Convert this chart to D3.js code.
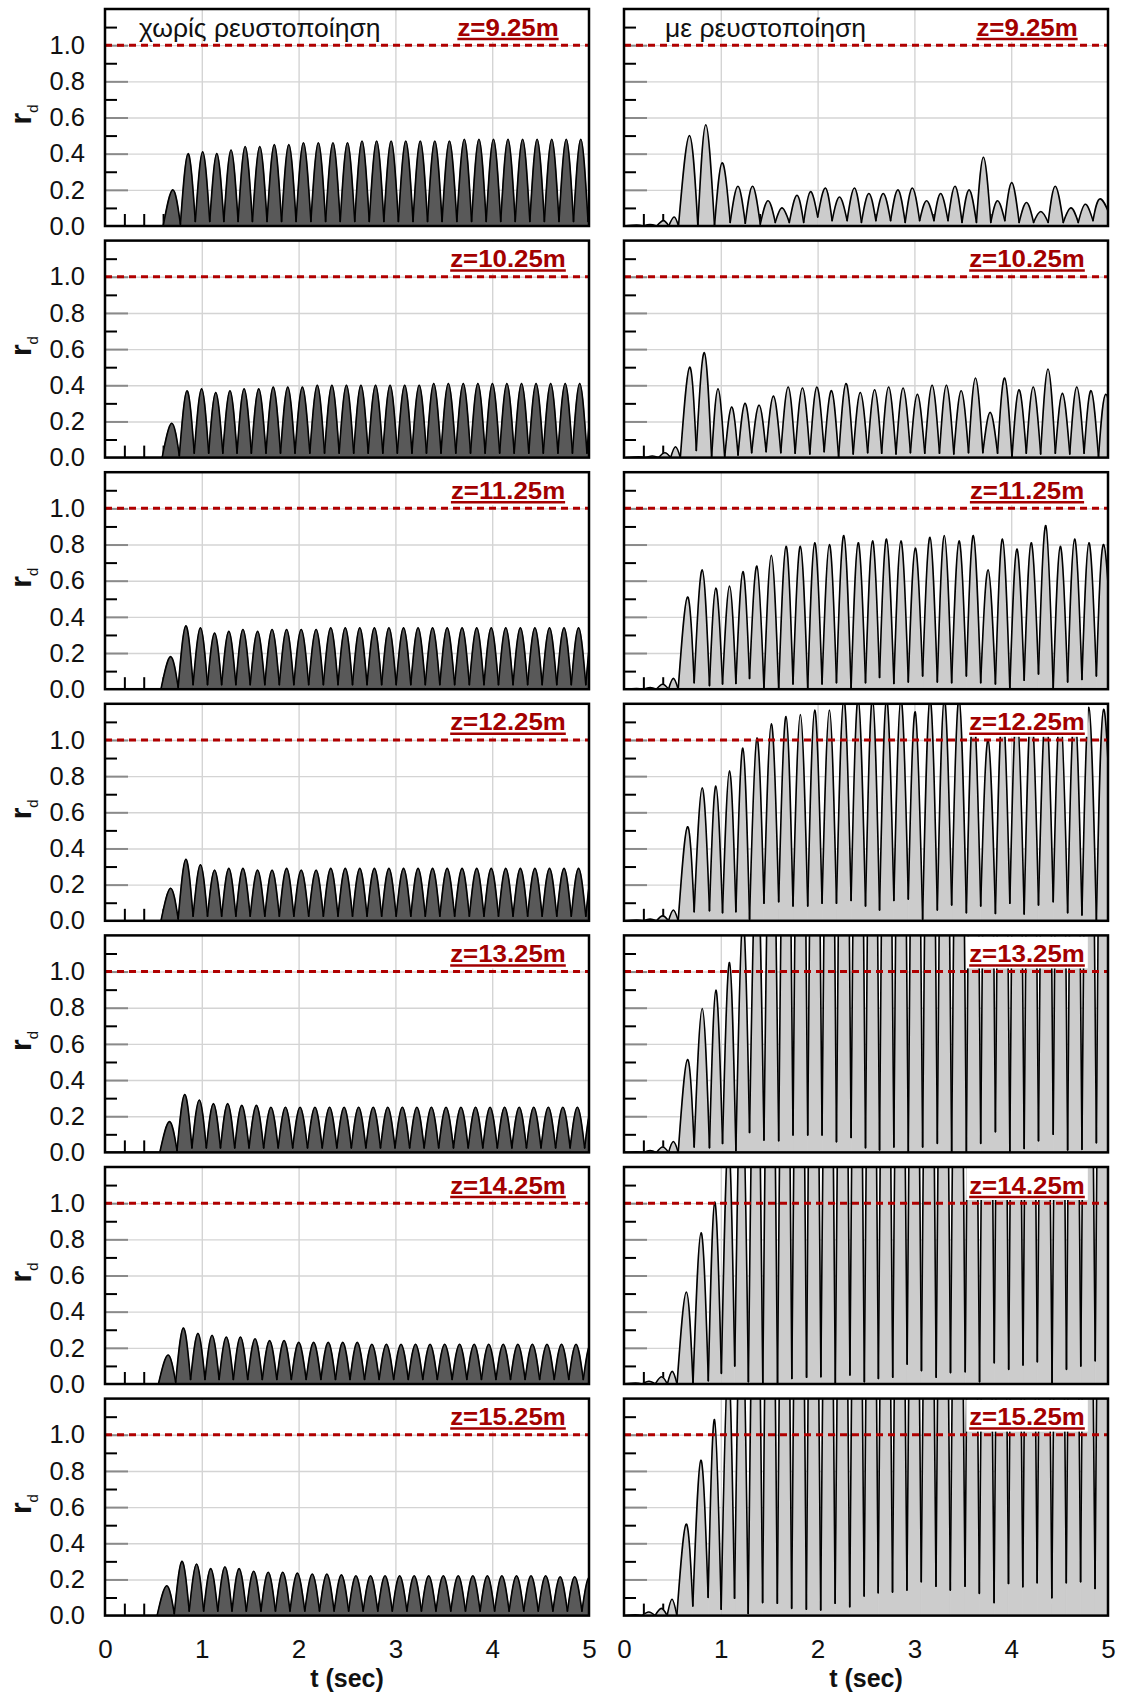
<!DOCTYPE html>
<html>
<head>
<meta charset="utf-8">
<script src="https://cdn.jsdelivr.net/npm/d3@7"></script>
<style>
  body { margin: 0; background: #fff; }
  svg { display: block; font-family: "Liberation Sans", Arial, sans-serif; }
</style>
</head>
<body>
<div id="chart"></div>
<script>
"use strict";

// ---- data ----
const depths = ["z=9.25m", "z=10.25m", "z=11.25m", "z=12.25m", "z=13.25m", "z=14.25m", "z=15.25m"];
const titles = ["χωρίς ρευστοποίηση", "με ρευστοποίηση"];
const yTickLabels = [0, 0.2, 0.4, 0.6, 0.8, 1.0];
const xTickLabels = [0, 1, 2, 3, 4, 5];

// left column (no liquefaction): turning point times of deepest row, shift per row
const peakTL = [0.637, 0.795, 0.946, 1.092, 1.239, 1.385, 1.536, 1.686, 1.836, 1.987, 2.141, 2.292, 2.442, 2.592, 2.743,
  2.893, 3.044, 3.194, 3.344, 3.495, 3.649, 3.800, 3.950, 4.100, 4.251, 4.401, 4.552, 4.702, 4.852, 5.002];
const troughTL = [0.538, 0.716, 0.870, 1.019, 1.165, 1.312, 1.460, 1.611, 1.761, 1.911, 2.064, 2.216, 2.367, 2.517, 2.667,
  2.818, 2.968, 3.119, 3.269, 3.419, 3.572, 3.724, 3.875, 4.025, 4.175, 4.326, 4.476, 4.627, 4.777, 4.927, 5.077];
const troughL = [0, 0.01, 0.025, 0.025, 0.025, 0.025, 0.025, 0.025, 0.025, 0.025, 0.025, 0.025, 0.025, 0.025, 0.025, 0.025,
  0.025, 0.025, 0.025, 0.025, 0.025, 0.025, 0.025, 0.025, 0.025, 0.025, 0.025, 0.025, 0.025, 0.025, 0.025];
const shiftL = [0.063, 0.052, 0.04, 0.04, 0.028, 0.014, 0];

const pkL1 = [0.20, 0.40, 0.41, 0.40, 0.42, 0.44, 0.44, 0.45, 0.45, 0.46, 0.46, 0.46, 0.46, 0.47, 0.47,
  0.47, 0.47, 0.47, 0.47, 0.47, 0.48, 0.48, 0.48, 0.48, 0.48, 0.48, 0.48, 0.48, 0.48, 0.48];
const pkL2 = [0.19, 0.37, 0.38, 0.36, 0.37, 0.38, 0.38, 0.39, 0.39, 0.39, 0.40, 0.40, 0.40, 0.40, 0.40,
  0.40, 0.40, 0.40, 0.41, 0.41, 0.41, 0.41, 0.41, 0.41, 0.41, 0.41, 0.41, 0.41, 0.41, 0.41];
const pkL3 = [0.18, 0.35, 0.34, 0.31, 0.32, 0.33, 0.32, 0.33, 0.33, 0.33, 0.33, 0.34, 0.34, 0.34, 0.34,
  0.34, 0.34, 0.34, 0.34, 0.34, 0.34, 0.34, 0.34, 0.34, 0.34, 0.34, 0.34, 0.34, 0.34, 0.34];
const pkL4 = [0.18, 0.34, 0.31, 0.28, 0.29, 0.29, 0.28, 0.28, 0.29, 0.28, 0.28, 0.29, 0.29, 0.29, 0.29,
  0.29, 0.29, 0.29, 0.29, 0.29, 0.29, 0.29, 0.29, 0.29, 0.29, 0.29, 0.29, 0.29, 0.29, 0.29];
const pkL5 = [0.17, 0.32, 0.29, 0.27, 0.27, 0.26, 0.26, 0.25, 0.25, 0.25, 0.25, 0.25, 0.25, 0.25, 0.25,
  0.25, 0.25, 0.25, 0.25, 0.25, 0.25, 0.25, 0.25, 0.25, 0.25, 0.25, 0.25, 0.25, 0.25, 0.25];
const pkL6 = [0.16, 0.31, 0.28, 0.27, 0.26, 0.26, 0.25, 0.24, 0.24, 0.23, 0.23, 0.23, 0.23, 0.23, 0.22,
  0.22, 0.22, 0.22, 0.22, 0.22, 0.22, 0.22, 0.22, 0.22, 0.22, 0.22, 0.22, 0.22, 0.22, 0.22];
const pkL7 = [0.165, 0.30, 0.285, 0.26, 0.27, 0.26, 0.245, 0.24, 0.24, 0.235, 0.23, 0.23, 0.225, 0.22, 0.22,
  0.22, 0.22, 0.22, 0.22, 0.22, 0.22, 0.22, 0.22, 0.22, 0.22, 0.22, 0.22, 0.215, 0.215, 0.21];

// right column (with liquefaction): top row has its own timing
const peakTR1 = [0.13, 0.269, 0.407, 0.518, 0.676, 0.845, 1.014, 1.177, 1.328, 1.487, 1.632, 1.787, 1.925, 2.081, 2.226,
  2.381, 2.529, 2.678, 2.830, 2.978, 3.126, 3.271, 3.420, 3.565, 3.713, 3.858, 4.006, 4.158, 4.306, 4.455, 4.617, 4.765, 4.921];
const troughTR1 = [0, 0.2, 0.338, 0.462, 0.563, 0.763, 0.935, 1.097, 1.253, 1.408, 1.563, 1.708, 1.856, 2.001, 2.150,
  2.305, 2.453, 2.602, 2.754, 2.905, 3.054, 3.202, 3.347, 3.492, 3.641, 3.789, 3.934, 4.082, 4.231, 4.382, 4.538, 4.693, 4.845, 5.05];
const peakTR = [0.13, 0.27, 0.40, 0.51, 0.656, 0.808, 0.949, 1.090, 1.228, 1.373, 1.522, 1.674, 1.822, 1.970, 2.122,
  2.271, 2.419, 2.567, 2.712, 2.861, 3.009, 3.161, 3.309, 3.461, 3.609, 3.761, 3.910, 4.058, 4.206, 4.358, 4.507, 4.655, 4.803, 4.955];
const troughTR = [0, 0.2, 0.335, 0.46, 0.56, 0.725, 0.883, 1.018, 1.156, 1.297, 1.446, 1.598, 1.746, 1.898, 2.046,
  2.195, 2.346, 2.495, 2.640, 2.788, 2.937, 3.085, 3.237, 3.385, 3.537, 3.685, 3.837, 3.986, 4.134, 4.282, 4.434, 4.583, 4.731, 4.880, 5.06];
const shiftR = [0, 0.022, 0, 0, 0, -0.012, -0.014];

const pkR1 = [0.005, 0.008, 0.03, 0.05, 0.50, 0.56, 0.35, 0.22, 0.22, 0.14, 0.10, 0.17, 0.19, 0.21, 0.16, 0.21, 0.18,
  0.18, 0.20, 0.21, 0.14, 0.18, 0.22, 0.20, 0.38, 0.14, 0.24, 0.13, 0.08, 0.22, 0.10, 0.12, 0.15];
const trR1 = [0, 0, 0, 0, 0, 0, 0, 0.02, 0.015, 0.01, 0.02, 0.02, 0.02, 0.05, 0.03, 0.03, 0.02, 0.03, 0.03, 0.02,
  0.03, 0.03, 0.03, 0.02, 0.02, 0.02, 0.03, 0.02, 0.02, 0.02, 0.02, 0.02, 0.03, 0.02];
const pkR2 = [0.004, 0.009, 0.027, 0.06, 0.50, 0.58, 0.38, 0.28, 0.30, 0.29, 0.34, 0.39, 0.385, 0.39, 0.37, 0.41, 0.36,
  0.375, 0.39, 0.385, 0.35, 0.40, 0.40, 0.37, 0.44, 0.25, 0.44, 0.375, 0.39, 0.49, 0.355, 0.39, 0.37, 0.35];
const trR2 = [0, 0, 0, 0, 0, 0.04, 0, 0, 0.014, 0.027, 0.033, 0.027, 0.024, 0.02, 0.033, 0, 0.02, 0.027, 0.024, 0.02,
  0.027, 0.024, 0.024, 0.02, 0.027, 0.027, 0.024, 0, 0.024, 0.02, 0.024, 0.02, 0.024, 0, 0.02];
const pkR3 = [0.004, 0.009, 0.027, 0.06, 0.51, 0.66, 0.56, 0.57, 0.65, 0.68, 0.74, 0.79, 0.79, 0.81, 0.80, 0.85, 0.81,
  0.82, 0.83, 0.82, 0.78, 0.84, 0.85, 0.82, 0.85, 0.66, 0.83, 0.775, 0.81, 0.905, 0.79, 0.83, 0.81, 0.80];
const trR3 = [0, 0, 0, 0, 0, 0.036, 0.02, 0.029, 0.032, 0.06, 0, 0, 0.029, 0, 0.029, 0.036, 0, 0.036, 0.065, 0.032,
  0.04, 0.073, 0.04, 0.036, 0.073, 0.036, 0.029, 0, 0.05, 0.084, 0, 0.04, 0.054, 0.073, 0.03];
const pkR4 = [0.004, 0.009, 0.027, 0.06, 0.52, 0.735, 0.745, 0.83, 0.955, 1.01, 1.09, 1.13, 1.14, 1.165, 1.165, 1.23,
  1.23, 1.23, 1.23, 1.23, 1.155, 1.23, 1.23, 1.23, 1.18, 1.0, 1.18, 1.18, 1.18, 1.18, 1.18, 1.18, 1.18, 1.17];
const trR4 = [0, 0, 0, 0, 0, 0.05, 0.056, 0.045, 0.05, 0.008, 0.097, 0.106, 0.082, 0.082, 0.097, 0.097, 0.112, 0.082,
  0.06, 0.112, 0.12, 0.008, 0.06, 0.087, 0.045, 0.082, 0.041, 0.097, 0.038, 0.087, 0.106, 0.045, 0.032, 0, 0.05];
const pkR5 = [0.004, 0.01, 0.03, 0.06, 0.514, 0.796, 0.897, 1.05, 1.3, 1.7, 2.3, 2.8, 3.2, 3.1, 3.2, 3.3, 3.2, 3.1,
  3.2, 3.3, 3.2, 3.2, 3.1, 3.2, 3.3, 3.2, 3.2, 3.1, 3.2, 3.3, 3.2, 3.2, 3.1, 3.2];
const trR5 = [0, 0, 0, 0, 0, 0.03, 0.026, 0.05, 0.01, 0.11, 0.068, 0.065, 0.096, 0.096, 0.096, 0.059, 0.083, 0.026,
  0.013, 0.03, 0, 0.03, 0.05, 0, 0, 0.05, 0.114, 0, 0.022, 0.065, 0.1, 0.013, 0.017, 0.054, 0.05];
const pkR6 = [0.005, 0.015, 0.04, 0.07, 0.508, 0.836, 1.006, 1.35, 1.8, 2.4, 2.9, 3.2, 3.2, 3.3, 3.1, 3.2, 3.3, 3.2,
  3.2, 3.1, 3.2, 3.3, 3.2, 3.2, 3.1, 3.2, 3.3, 3.2, 3.2, 3.1, 3.2, 3.3, 3.2, 3.2];
const trR6 = [0, 0, 0, 0, 0, 0, 0.018, 0.059, 0.1, 0.013, 0.004, 0.004, 0.031, 0.037, 0.04, 0, 0.05, 0.013, 0.031,
  0.037, 0.11, 0.074, 0.037, 0.063, 0.068, 0.013, 0.118, 0.081, 0.105, 0.123, 0, 0.081, 0.1, 0.129, 0.1];
const pkR7 = [0.005, 0.02, 0.04, 0.09, 0.506, 0.859, 1.084, 1.4, 1.9, 2.5, 3.0, 3.2, 3.2, 3.3, 3.2, 3.1, 3.2, 3.3,
  3.2, 3.2, 3.1, 3.2, 3.3, 3.2, 3.2, 3.1, 3.2, 3.3, 3.2, 3.2, 3.1, 3.2, 3.3, 3.2];
const trR7 = [0, 0, 0, 0, 0, 0.053, 0.101, 0.035, 0.096, 0.012, 0.072, 0.068, 0.04, 0.035, 0.031, 0.068, 0.049, 0.108,
  0.126, 0.13, 0.141, 0.187, 0.163, 0.141, 0.163, 0.123, 0.072, 0.178, 0.16, 0.182, 0.099, 0.182, 0.187, 0.15, 0.15];

const leftPeaks = [pkL1, pkL2, pkL3, pkL4, pkL5, pkL6, pkL7];
const rightPeaks = [pkR1, pkR2, pkR3, pkR4, pkR5, pkR6, pkR7];
const rightTroughs = [trR1, trR2, trR3, trR4, trR5, trR6, trR7];

// ---- layout ----
const panelW = 484;
const panelH = 217;
const top0 = 9;
const rowStep = 231.6;
const colX = [105, 624];
const fills = ["#595959", "#cccccc"];
const red = "#a30000";

const svg = d3.select("#chart")
  .append("svg")
  .attr("width", 1121)
  .attr("height", 1697);

svg.append("rect").attr("width", 1121).attr("height", 1697).attr("fill", "#fff");

const x = d3.scaleLinear().domain([0, 5]).range([0, panelW]);
const y = d3.scaleLinear().domain([0, 1.2]).range([panelH, 0]);

function humps(peakT, troughT, peaks, troughs, shift) {
  return peaks.map((p, i) => [
    [troughT[i] + shift, troughs[i]],
    [peakT[i] + shift, p],
    [troughT[i + 1] + shift, troughs[i + 1]]
  ]);
}

function styleLines(sel, color, width) {
  sel.select(".domain").remove();
  sel.selectAll("line").attr("stroke", color).attr("stroke-width", width);
}

function drawPanel(col, row, segs) {
  const g = svg.append("g")
    .attr("transform", `translate(${colX[col]},${top0 + row * rowStep})`);
  const clipId = `clip-${col}-${row}`;
  g.append("clipPath").attr("id", clipId)
    .append("rect").attr("width", panelW).attr("height", panelH);

  // grid
  g.append("g")
    .call(d3.axisLeft(y).tickValues([0.2, 0.4, 0.6, 0.8, 1.0]).tickSize(-panelW).tickFormat(""))
    .call(s => styleLines(s, "#d4d4d4", 1.4));
  g.append("g")
    .attr("transform", `translate(0,${panelH})`)
    .call(d3.axisBottom(x).tickValues([1, 2, 3, 4]).tickSize(-panelH).tickFormat(""))
    .call(s => styleLines(s, "#d4d4d4", 1.4));

  // inner ticks
  g.append("g")
    .call(d3.axisRight(y).tickValues([0.2, 0.4, 0.6, 0.8, 1.0]).tickSize(23).tickFormat(""))
    .call(s => styleLines(s, "#8a8a8a", 2));
  g.append("g")
    .call(d3.axisRight(y).tickValues([0.1, 0.3, 0.5, 0.7, 0.9, 1.1]).tickSize(12).tickFormat(""))
    .call(s => styleLines(s, "#000", 2));
  g.append("g")
    .attr("transform", `translate(0,${panelH})`)
    .call(d3.axisTop(x).tickValues(d3.range(1, 25).map(i => i * 0.2)).tickSize(12).tickFormat(""))
    .call(s => styleLines(s, "#000", 2));

  // data
  const area = d3.area()
    .x(d => x(d[0]))
    .y0(y(0))
    .y1(d => y(d[1]))
    .curve(d3.curveNatural);
  const line = d3.line()
    .x(d => x(d[0]))
    .y(d => y(d[1]))
    .curve(d3.curveNatural);

  const dg = g.append("g").attr("clip-path", `url(#${clipId})`);
  dg.selectAll("path.fill")
    .data(segs)
    .join("path")
    .attr("class", "fill")
    .attr("d", area)
    .attr("fill", fills[col])
    .attr("stroke", fills[col])
    .attr("stroke-width", 0.8);
  dg.selectAll("path.trace")
    .data(segs)
    .join("path")
    .attr("class", "trace")
    .attr("d", line)
    .attr("fill", "none")
    .attr("stroke", "#000")
    .attr("stroke-width", 1.6)
    .attr("stroke-linecap", "round")
    .attr("stroke-linejoin", "round");

  // r_d = 1 line
  g.append("line")
    .attr("x1", 0).attr("x2", panelW)
    .attr("y1", y(1)).attr("y2", y(1))
    .attr("stroke", "#b00000")
    .attr("stroke-width", 3)
    .attr("stroke-dasharray", "7,5");

  // depth label with white box
  const lg = g.append("g");
  const box = lg.append("rect").attr("fill", "#fff");
  const lab = lg.append("text")
    .attr("transform", `translate(${panelW - 81},26.5) scale(1.1,1)`)
    .attr("text-anchor", "middle")
    .attr("font-size", 23.5)
    .attr("font-weight", "bold")
    .attr("fill", red)
    .text(depths[row]);
  const tw = lab.node().getComputedTextLength() * 1.1;
  box.attr("x", panelW - 81 - tw / 2 - 3).attr("y", 1)
    .attr("width", tw + 6).attr("height", 32);
  lg.append("line")
    .attr("x1", panelW - 81 - tw / 2).attr("x2", panelW - 81 + tw / 2)
    .attr("y1", 30).attr("y2", 30)
    .attr("stroke", red)
    .attr("stroke-width", 2.5);

  if (row === 0) {
    g.append("text")
      .attr("x", col === 0 ? 34 : 41)
      .attr("y", 28)
      .attr("font-size", 26.5)
      .attr("fill", "#111")
      .text(titles[col]);
  }

  if (col === 0) {
    const ya = g.append("g")
      .call(d3.axisLeft(y).tickValues(yTickLabels).tickSize(0).tickPadding(20).tickFormat(d3.format(".1f")));
    ya.select(".domain").remove();
    ya.selectAll("text").attr("font-size", 25.5).attr("fill", "#111")
      .attr("font-family", "'Liberation Sans', Arial, sans-serif");

    const rl = g.append("text")
      .attr("transform", `translate(-74,${panelH / 2 - 3}) rotate(-90)`)
      .attr("text-anchor", "middle")
      .attr("fill", "#111");
    rl.append("tspan").attr("font-size", 30).attr("font-weight", "bold").text("r");
    rl.append("tspan").attr("font-size", 15).attr("dy", 7).text("d");
  }

  if (row === depths.length - 1) {
    const xa = g.append("g")
      .attr("transform", `translate(0,${panelH})`)
      .call(d3.axisBottom(x).tickValues(xTickLabels).tickSize(0).tickPadding(24).tickFormat(d3.format("d")));
    xa.select(".domain").remove();
    xa.selectAll("text").attr("font-size", 26).attr("fill", "#111")
      .attr("font-family", "'Liberation Sans', Arial, sans-serif");
    g.append("text")
      .attr("x", panelW / 2)
      .attr("y", panelH + 71)
      .attr("text-anchor", "middle")
      .attr("font-size", 25)
      .attr("font-weight", "bold")
      .attr("fill", "#111")
      .text("t (sec)");
  }

  // frame
  g.append("rect")
    .attr("width", panelW).attr("height", panelH)
    .attr("fill", "none")
    .attr("stroke", "#000")
    .attr("stroke-width", 2.5);
}

depths.forEach((z, row) => {
  const s = shiftL[row];
  const left = [[[0, 0], [troughTL[0] + s, 0]]]
    .concat(humps(peakTL, troughTL, leftPeaks[row], troughL, s));
  drawPanel(0, row, left);

  const pt = row === 0 ? peakTR1 : peakTR;
  const tt = row === 0 ? troughTR1 : troughTR;
  drawPanel(1, row, humps(pt, tt, rightPeaks[row], rightTroughs[row], shiftR[row]));
});
</script>
</body>
</html>
